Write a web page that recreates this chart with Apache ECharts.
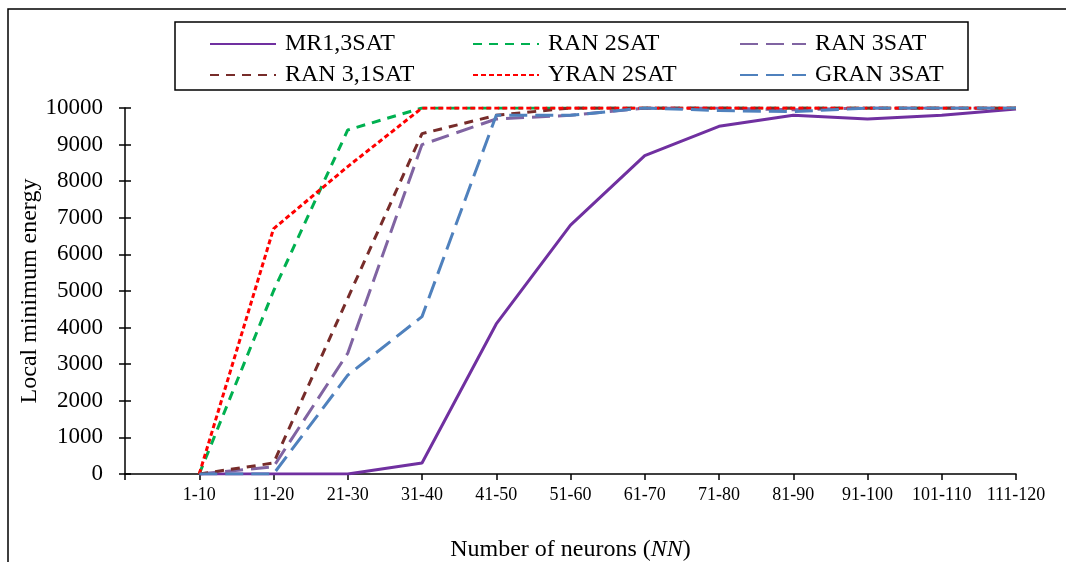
<!DOCTYPE html>
<html>
<head>
<meta charset="utf-8">
<script src="https://cdn.jsdelivr.net/npm/echarts@6/dist/echarts.min.js"></script>
<style>
  html, body { margin: 0; padding: 0; background: #fff; }
  #chart { width: 1066px; height: 562px; }
</style>
</head>
<body>
<div id="chart"></div>
<script>
// Neuron-count bins; the leading blank slot leaves room between the y axis and the first bin
const categories = ['', '1-10', '11-20', '21-30', '31-40', '41-50', '51-60', '61-70',
  '71-80', '81-90', '91-100', '101-110', '111-120'];

const mr13sat  = [null, 0, 0, 0, 300, 4100, 6800, 8700, 9500, 9800, 9700, 9800, 9970];
const ran2sat  = [null, 0, 5000, 9400, 10000, 10000, 10000, 10000, 10000, 10000, 10000, 10000, 10000];
const ran3sat  = [null, 0, 200, 3300, 9000, 9700, 9800, 10000, 10000, 9950, 10000, 10000, 10000];
const ran31sat = [null, 0, 300, 4800, 9300, 9800, 10000, 10000, 10000, 10000, 10000, 10000, 10000];
const yran2sat = [null, 0, 6700, 8400, 10000, 10000, 10000, 10000, 10000, 10000, 10000, 10000, 10000];
const gran3sat = [null, 0, 0, 2700, 4300, 9800, 9800, 10000, 9930, 9900, 10000, 10000, 10000];

const yTicks = [0, 1000, 2000, 3000, 4000, 5000, 6000, 7000, 8000, 9000, 10000];

const FONT = '"Liberation Serif", "Times New Roman", serif';

const seriesDefs = [
  { name: 'MR1,3SAT',   data: mr13sat,  color: '#7030A0', type: 'solid' },
  { name: 'RAN 2SAT',   data: ran2sat,  color: '#00B050', type: [9, 7] },
  { name: 'RAN 3SAT',   data: ran3sat,  color: '#8064A2', type: [18, 8] },
  { name: 'RAN 3,1SAT', data: ran31sat, color: '#772C2A', type: [9, 7] },
  { name: 'YRAN 2SAT',  data: yran2sat, color: '#FF0000', type: [5, 3] },
  { name: 'GRAN 3SAT',  data: gran3sat, color: '#4F81BD', type: [18, 8] }
];

const chart = echarts.init(document.getElementById('chart'), null, { renderer: 'canvas' });

const legendBase = {
  orient: 'vertical',
  top: 27,
  itemWidth: 66,
  itemHeight: 14,
  itemGap: 7,
  itemStyle: { opacity: 0 },
  textStyle: { fontFamily: FONT, fontSize: 24, color: '#000', padding: [0, 0, 0, 4] },
  selectedMode: false
};

chart.setOption({
  animation: false,
  backgroundColor: '#fff',
  color: seriesDefs.map(s => s.color),
  graphic: [
    { type: 'rect', shape: { x: 8, y: 9, width: 1200, height: 700 },
      style: { fill: 'none', stroke: '#000', lineWidth: 1.5 }, silent: true },
    { type: 'rect', shape: { x: 175, y: 22, width: 793, height: 68 },
      style: { fill: 'none', stroke: '#000', lineWidth: 1.5 }, silent: true }
  ],
  legend: [
    Object.assign({}, legendBase, { left: 204, data: ['MR1,3SAT', 'RAN 3,1SAT'] }),
    Object.assign({}, legendBase, { left: 467, data: ['RAN 2SAT', 'YRAN 2SAT'] }),
    Object.assign({}, legendBase, { left: 734, data: ['RAN 3SAT', 'GRAN 3SAT'] })
  ],
  grid: { left: 125, right: 50, top: 108, bottom: 88, containLabel: false, outerBoundsMode: 'none' },
  xAxis: {
    type: 'category',
    data: categories,
    boundaryGap: false,
    name: '{n|Number of neurons (}{i|NN}{n|)}',
    nameLocation: 'middle',
    nameGap: 64,
    nameMoveOverlap: false,
    nameTextStyle: {
      rich: {
        n: { fontFamily: FONT, fontSize: 24, color: '#000' },
        i: { fontFamily: FONT, fontSize: 24, color: '#000', fontStyle: 'italic' }
      }
    },
    axisLine: { lineStyle: { color: '#000', width: 1.5 } },
    axisTick: { show: true, inside: false, length: 6, interval: 0, lineStyle: { color: '#000', width: 1.5 } },
    axisLabel: { interval: 0, margin: 12, fontFamily: FONT, fontSize: 18, color: '#000' },
    splitLine: { show: false }
  },
  yAxis: [
    {
      type: 'value',
      min: 0,
      max: 10000,
      interval: 1000,
      name: 'Local minimum energy',
      nameLocation: 'middle',
      nameGap: 83,
      nameMoveOverlap: false,
      nameRotate: 90,
      nameTextStyle: { fontFamily: FONT, fontSize: 24, color: '#000' },
      axisLine: { show: true, lineStyle: { color: '#000', width: 1.5 } },
      axisTick: { show: true, inside: false, length: 6, lineStyle: { color: '#000', width: 1.5 } },
      axisLabel: {
        margin: 22, fontFamily: FONT, fontSize: 23, color: '#000',
        formatter: v => (yTicks.indexOf(v) >= 0 ? String(v) : '')
      },
      splitLine: { show: false }
    },
    {
      // inward half of the crossing ticks on the value axis
      type: 'value',
      position: 'left',
      min: 0,
      max: 10000,
      interval: 1000,
      axisLine: { show: false },
      axisTick: { show: true, inside: true, length: 6, lineStyle: { color: '#000', width: 1.5 } },
      axisLabel: { show: false },
      splitLine: { show: false }
    }
  ],
  series: seriesDefs.map(s => ({
    name: s.name,
    type: 'line',
    data: s.data,
    yAxisIndex: 0,
    symbol: 'none',
    smooth: false,
    connectNulls: false,
    lineStyle: { color: s.color, width: 3, type: s.type, cap: 'butt' },
    itemStyle: { color: s.color }
  }))
});
</script>
</body>
</html>
